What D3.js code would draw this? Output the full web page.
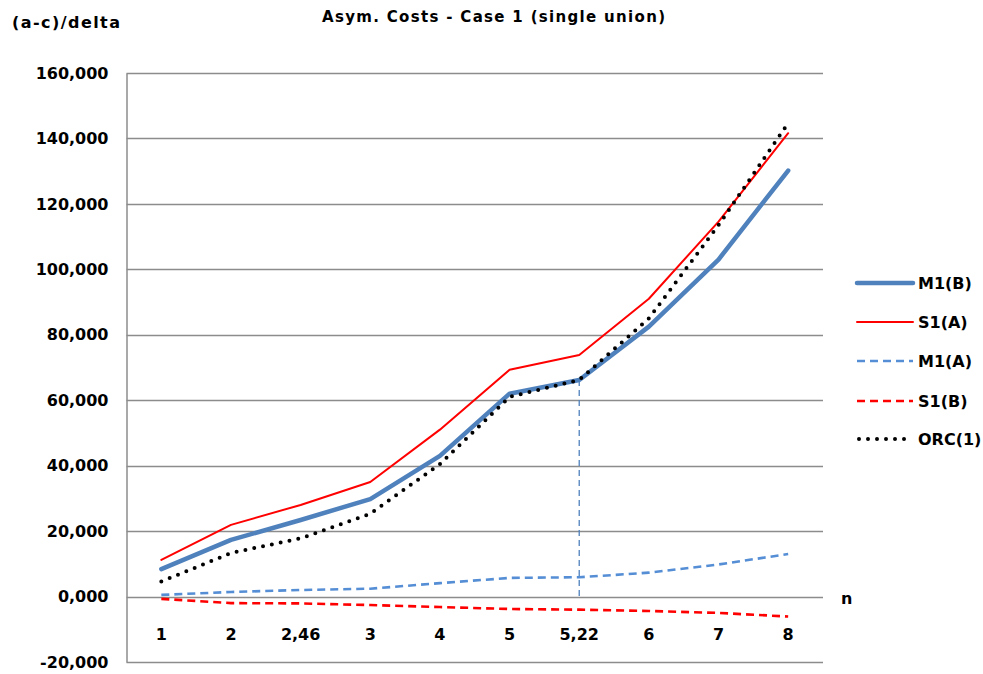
<!DOCTYPE html>
<html>
<head>
<meta charset="utf-8">
<script src="https://cdn.jsdelivr.net/npm/d3@7/dist/d3.min.js"></script>
<style>
  html, body { margin: 0; padding: 0; background: #fff; }
  svg text { font-family: "DejaVu Sans", Verdana, sans-serif; font-weight: bold; fill: #000; }
</style>
</head>
<body>
<svg id="chart" width="983" height="674"></svg>
<script>
// Categories on the horizontal axis (n)
const categories = ["1", "2", "2,46", "3", "4", "5", "5,22", "6", "7", "8"];

// Series values, (a-c)/delta
const m1B  = [8400, 17300, 23400, 29800, 43000, 62000, 66200, 82500, 103000, 130200];
const s1A  = [11200, 21900, 28000, 35000, 51000, 69300, 73800, 91000, 114600, 141600];
const m1A  = [500, 1400, 2000, 2400, 4100, 5700, 5900, 7300, 9800, 13000];
const s1B  = [-700, -2000, -2100, -2600, -3200, -3800, -4000, -4400, -5000, -6100];
const orc1 = [4600, 13300, 17800, 25300, 40500, 61000, 66200, 85000, 113500, 144700];

// Drop line marking n = 5,22
const markerCategory = "5,22";
const markerFrom = 66200;
const markerTo = 0;

// Vertical axis ticks
const yTicks = [-20000, 0, 20000, 40000, 60000, 80000, 100000, 120000, 140000, 160000];
const yTickLabels = ["-20,000", "0,000", "20,000", "40,000", "60,000", "80,000", "100,000", "120,000", "140,000", "160,000"];

const seriesNames = ["M1(B)", "S1(A)", "M1(A)", "S1(B)", "ORC(1)"];
const seriesData = [m1B, s1A, m1A, s1B, orc1];

const styles = {
  "M1(B)":  { color: "#4F81BD", width: 4.5, dash: null, cap: "round" },
  "S1(A)":  { color: "#FF0000", width: 2,   dash: null, cap: "round" },
  "M1(A)":  { color: "#558ED5", width: 2.6, dash: "8,5", cap: "butt" },
  "S1(B)":  { color: "#FF0000", width: 2.6, dash: "8,5", cap: "butt" },
  "ORC(1)": { color: "#000000", width: 4,   dash: "0,9", cap: "round" }
};

const svg = d3.select("#chart");
const plot = { left: 126.5, right: 823, top: 73, bottom: 662 };

const x = d3.scaleBand().domain(categories).range([plot.left, plot.right]);
const xc = c => x(c) + x.bandwidth() / 2;
const y = d3.scaleLinear().domain([-20000, 160000]).range([plot.bottom, plot.top]);

// Horizontal gridlines
svg.append("g")
  .selectAll("line")
  .data(yTicks)
  .join("line")
  .attr("x1", plot.left).attr("x2", plot.right)
  .attr("y1", d => Math.round(y(d)) + 0.5).attr("y2", d => Math.round(y(d)) + 0.5)
  .attr("stroke", "#8c8c8c").attr("stroke-width", 1.3);

// Vertical axis line and tick labels
const yAxis = d3.axisLeft(y)
  .tickValues(yTicks)
  .tickSize(0)
  .tickPadding(18)
  .tickFormat((d, i) => yTickLabels[i]);
const yg = svg.append("g").attr("transform", `translate(${plot.left},0)`).call(yAxis);
yg.select(".domain").attr("stroke", "#8c8c8c").attr("stroke-width", 1.5);
yg.selectAll("text").attr("font-size", 16).attr("font-family", "DejaVu Sans").attr("font-weight", "bold").attr("fill", "#000");

// Category labels
svg.append("g")
  .selectAll("text")
  .data(categories)
  .join("text")
  .attr("x", d => xc(d))
  .attr("y", 634)
  .attr("dy", "0.35em")
  .attr("text-anchor", "middle")
  .attr("font-size", 16)
  .text(d => d);

// Axis titles and chart title
svg.append("text").attr("x", 12).attr("y", 22).attr("dy", "0.35em")
  .attr("font-size", 16).attr("textLength", 108).text("(a-c)/delta");
svg.append("text").attr("x", 322).attr("y", 17).attr("dy", "0.35em")
  .attr("font-size", 15).attr("textLength", 343).text("Asym. Costs - Case 1 (single union)");
svg.append("text").attr("x", 841).attr("y", 598).attr("dy", "0.35em")
  .attr("font-size", 16).text("n");

// Drop line at n = 5,22
svg.append("line")
  .attr("x1", xc(markerCategory)).attr("x2", xc(markerCategory))
  .attr("y1", y(markerFrom)).attr("y2", y(markerTo))
  .attr("stroke", "#4F81BD").attr("stroke-width", 1.3)
  .attr("stroke-dasharray", "6,4");

// Series lines
const line = d3.line().x((d, i) => xc(categories[i])).y(d => y(d));
const drawOrder = [2, 3, 0, 1, 4];
drawOrder.forEach(k => {
  const name = seriesNames[k];
  const st = styles[name];
  svg.append("path")
    .datum(seriesData[k])
    .attr("d", line)
    .attr("fill", "none")
    .attr("stroke", st.color)
    .attr("stroke-width", st.width)
    .attr("stroke-linejoin", "round")
    .attr("stroke-linecap", st.cap)
    .attr("stroke-dasharray", st.dash);
});

// Legend
const legendY = [283, 322, 361, 401, 439];
const legend = svg.append("g");
seriesNames.forEach((name, i) => {
  const st = styles[name];
  legend.append("line")
    .attr("x1", name === "ORC(1)" ? 859 : 857).attr("x2", 913)
    .attr("y1", legendY[i]).attr("y2", legendY[i])
    .attr("stroke", st.color)
    .attr("stroke-width", st.width)
    .attr("stroke-linecap", st.cap)
    .attr("stroke-dasharray", st.dash);
  legend.append("text")
    .attr("x", 918).attr("y", legendY[i]).attr("dy", "0.35em")
    .attr("font-size", 16).text(name);
});
</script>
</body>
</html>
